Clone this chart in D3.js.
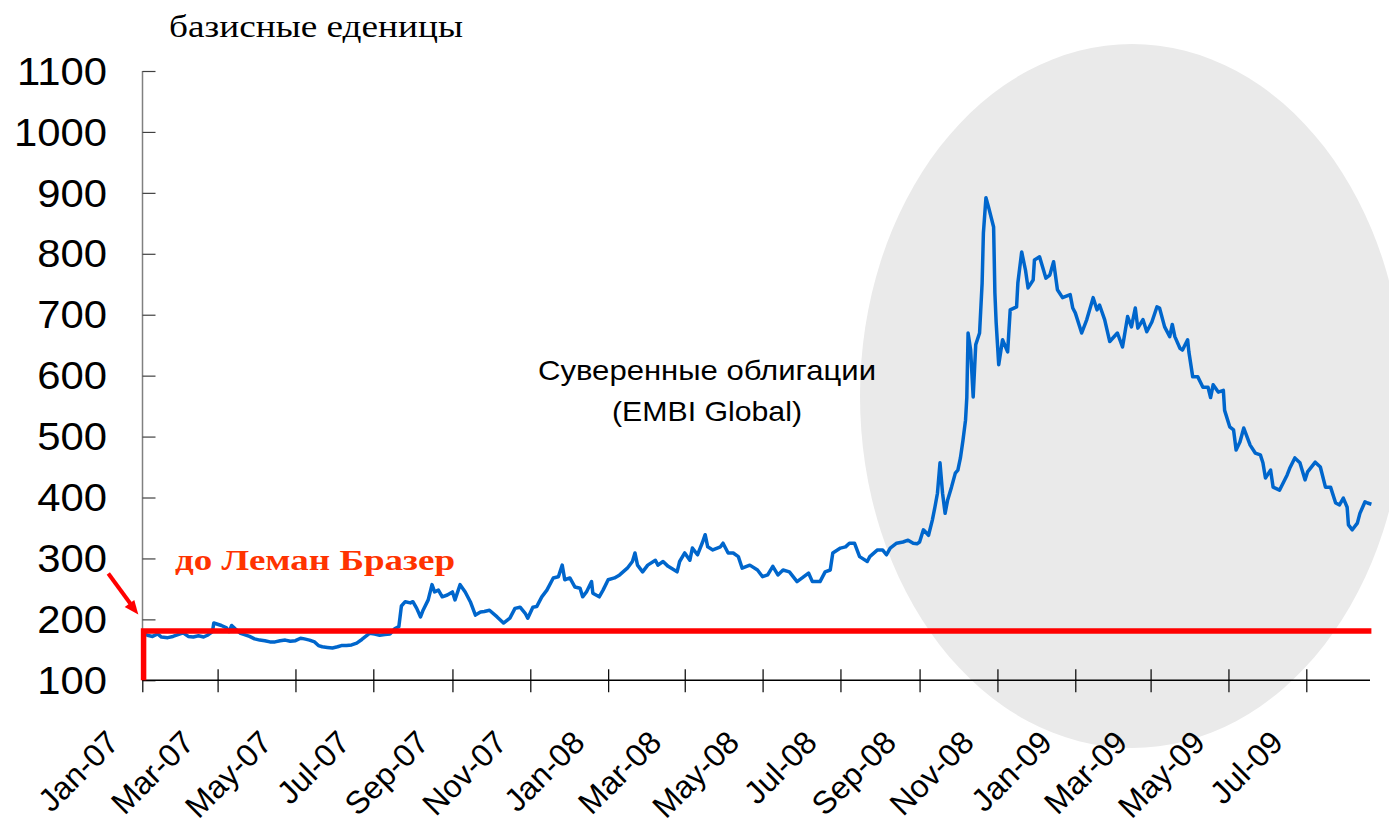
<!DOCTYPE html>
<html>
<head>
<meta charset="utf-8">
<script src="https://cdn.jsdelivr.net/npm/d3@7"></script>
<style>
  body { margin: 0; background: #fff; }
  svg { display: block; }
</style>
</head>
<body>
<svg width="1389" height="824"></svg>
<script>
// days since 1 Jan 2007 and EMBI Global spread (bp)
var spreadDays = [
  1, 4, 8, 12, 15, 20, 24, 28, 32, 36, 40, 44, 48, 51, 55, 56, 59, 62, 66, 68,
  70, 73, 77, 80, 84, 88, 92, 96, 100, 104, 108, 112, 116, 120, 124, 127, 131, 135, 138, 141,
  145, 149, 153, 156, 160, 164, 168, 172, 175, 178, 182, 186, 190, 194, 198, 201, 203, 206, 210, 212,
  215, 218, 220, 224, 227, 229, 232, 235, 239, 243, 245, 249, 253, 257, 261, 265, 268, 272, 278, 283,
  288, 292, 296, 300, 302, 306, 309, 313, 317, 322, 326, 329, 331, 335, 339, 343, 345, 348, 352, 353,
  358, 361, 365, 370, 374, 380, 384, 386, 388, 392, 396, 402, 404, 408, 412, 419, 421, 425, 429, 431,
  435, 439, 441, 443, 447, 453, 455, 459, 463, 467, 470, 476, 482, 486, 490, 494, 498, 502, 507, 513,
  517, 522, 525, 531, 535, 539, 541, 547, 551, 554, 558, 562, 568, 570, 576, 580, 583, 586, 591, 596,
  600, 604, 607, 609, 612, 616, 619, 621, 623, 625, 627, 629, 631, 634, 637, 639, 641, 643, 645, 646,
  647, 649, 651, 653, 656, 658, 659, 661, 663, 667, 668, 669, 671, 674, 678, 680, 685, 686, 689, 692,
  694, 698, 699, 703, 708, 711, 714, 717, 721, 727, 729, 731, 736, 740, 745, 748, 750, 754, 758, 764,
  768, 772, 775, 778, 780, 784, 787, 791, 795, 797, 801, 805, 807, 809, 813, 815, 819, 820, 823, 827,
  831, 835, 837, 839, 843, 847, 848, 852, 855, 857, 860, 863, 868, 872, 876, 878, 880, 884, 886, 891,
  897, 899, 903, 907, 911, 913, 919, 923, 927, 931, 935, 938, 941, 944, 945, 948, 952, 954, 958, 960,
  963
];
var spreadValues = [
  177, 174, 172, 176, 171, 170, 172, 175, 178, 172, 171, 173, 171, 174, 180, 194, 192, 190, 186, 180,
  190, 184, 177, 175, 172, 168, 166, 165, 163, 163, 165, 166, 164, 165, 169, 168, 166, 163, 157, 155,
  154, 153, 155, 157, 157, 158, 161, 167, 172, 177, 176, 174, 175, 176, 185, 188, 222, 229, 227, 229,
  218, 204, 215, 232, 257, 245, 248, 237, 240, 245, 232, 257, 245, 229, 207, 212, 213, 215, 204, 194,
  202, 218, 220, 210, 202, 220, 221, 237, 248, 268, 270, 289, 265, 268, 253, 251, 237, 245, 262, 243,
  237, 248, 265, 268, 273, 284, 295, 309, 289, 278, 289, 297, 289, 295, 287, 278, 295, 309, 297, 317,
  306, 327, 339, 319, 314, 319, 325, 309, 309, 303, 284, 289, 281, 270, 273, 287, 273, 281, 278, 262,
  268, 276, 262, 262, 278, 281, 309, 317, 319, 325, 325, 303, 295, 303, 314, 314, 306, 317, 325, 327,
  330, 325, 324, 327, 347, 338, 363, 384, 407, 457, 407, 374, 396, 417, 440, 445, 465, 494, 527, 564,
  670, 642, 565, 651, 670, 752, 834, 892, 877, 844, 736, 687, 618, 659, 639, 708, 713, 752, 803, 773,
  744, 757, 790, 795, 760, 765, 787, 741, 728, 733, 711, 703, 670, 692, 728, 708, 716, 692, 656, 670,
  647, 697, 680, 711, 678, 692, 672, 688, 713, 711, 680, 664, 684, 664, 645, 642, 659, 639, 598, 598,
  581, 581, 564, 585, 573, 576, 543, 516, 511, 478, 491, 514, 486, 473, 470, 457, 432, 445, 417, 412,
  437, 448, 465, 457, 429, 442, 458, 450, 417, 417, 391, 388, 399, 384, 355, 347, 358, 374, 393, 391,
  389
];
// pre-Lehman level
var lehmanDays = [1, 1, 963];
var lehmanValues = [100, 181, 181];

var yTicks = [100, 200, 300, 400, 500, 600, 700, 800, 900, 1000, 1100];
var startDate = new Date(2007, 0, 1);
var lastDay = 963;

var svg = d3.select("svg");
var toDate = function (d) { return d3.timeDay.offset(startDate, d); };

var xScale = d3.scaleTime()
  .domain([startDate, toDate(lastDay)])
  .range([142.3, 1371.4]);
var yScale = d3.scaleLinear().domain([100, 1100]).range([680.3, 71]);

// grey highlight ellipse (crisis period)
svg.append("ellipse")
  .attr("cx", 1132)
  .attr("cy", 396)
  .attr("rx", 272)
  .attr("ry", 352)
  .style("fill", "#eaeaea");

// y axis
var yAxis = svg.append("g")
  .attr("transform", "translate(142.5,0)")
  .call(d3.axisRight(yScale).tickValues(yTicks).tickSize(13).tickFormat(""));
yAxis.select(".domain").attr("d", "M0," + yScale(1100) + "V" + yScale(100)).style("stroke", "#808080").style("stroke-width", 1.5);
yAxis.selectAll(".tick line").style("stroke", "#404040").style("stroke-width", 1.2);

// labels are a little wider than the font, as in the source
svg.append("g")
  .selectAll("text")
  .data(yTicks)
  .enter()
  .append("text")
  .attr("transform", function (d) { return "translate(107," + yScale(d) + ") scale(1.1,1)"; })
  .attr("dy", "0.36em")
  .attr("text-anchor", "end")
  .style("font-family", "Liberation Sans, Arial, sans-serif")
  .style("font-size", "38px")
  .text(function (d) { return d; });

// x axis
var xAxis = svg.append("g")
  .attr("transform", "translate(0," + yScale(100) + ")")
  .call(d3.axisBottom(xScale)
    .ticks(d3.timeMonth.every(2))
    .tickSize(12)
    .tickFormat(d3.timeFormat("%b-%y")));
xAxis.select(".domain").attr("d", "M142.3,0H1370").style("stroke", "#000").style("stroke-width", 1.5);
xAxis.selectAll(".tick line").attr("y1", -11).style("stroke", "#000").style("stroke-width", 1.2);
xAxis.selectAll(".tick text")
  .attr("y", 0)
  .attr("dy", 0)
  .attr("transform", "translate(-22,64) rotate(-45)")
  .attr("text-anchor", "end")
  .style("font-family", "Liberation Sans, Arial, sans-serif")
  .style("font-size", "32px")
  .style("fill", "#000");

// spread line
var spread = spreadDays.map(function (d, i) { return [toDate(d), spreadValues[i]]; });
var lehman = lehmanDays.map(function (d, i) { return [toDate(d), lehmanValues[i]]; });
var line = d3.line()
  .x(function (d) { return xScale(d[0]); })
  .y(function (d) { return yScale(d[1]); });

svg.append("path")
  .datum(spread)
  .attr("d", line)
  .style("fill", "none")
  .style("stroke", "#0066cc")
  .style("stroke-width", 3.5)
  .style("stroke-linejoin", "round");

svg.append("path")
  .datum(lehman)
  .attr("d", line)
  .style("fill", "none")
  .style("stroke", "#ff0000")
  .style("stroke-width", 5.5);

// titles and notes
svg.append("text")
  .attr("x", 169)
  .attr("y", 37)
  .attr("textLength", 294)
  .attr("lengthAdjust", "spacingAndGlyphs")
  .style("font-family", "Liberation Serif, Times New Roman, serif")
  .style("font-size", "31px")
  .text("базисные еденицы");

svg.append("text")
  .attr("x", 175)
  .attr("y", 570)
  .attr("textLength", 280)
  .attr("lengthAdjust", "spacingAndGlyphs")
  .style("font-family", "Liberation Serif, Times New Roman, serif")
  .style("font-weight", "bold")
  .style("font-size", "29px")
  .style("fill", "#ff3300")
  .text("до Леман Бразер");

svg.append("text")
  .attr("x", 538)
  .attr("y", 380)
  .attr("textLength", 338)
  .attr("lengthAdjust", "spacingAndGlyphs")
  .style("font-family", "Liberation Sans, Arial, sans-serif")
  .style("font-size", "28px")
  .text("Суверенные облигации");
svg.append("text")
  .attr("x", 612)
  .attr("y", 421)
  .attr("textLength", 190)
  .attr("lengthAdjust", "spacingAndGlyphs")
  .style("font-family", "Liberation Sans, Arial, sans-serif")
  .style("font-size", "28px")
  .text("(EMBI Global)");

// arrow to the start of the red line
var tip = [xScale(startDate) - 4, yScale(208)];
var tail = [tip[0] - 30, tip[1] - 41];
svg.append("line")
  .attr("x1", tail[0]).attr("y1", tail[1])
  .attr("x2", tip[0] - 8).attr("y2", tip[1] - 11)
  .style("stroke", "#ff0000")
  .style("stroke-width", 4);
svg.append("path")
  .attr("d", "M" + tip[0] + "," + tip[1] +
    "L" + (tip[0] - 13.6) + "," + (tip[1] - 7.5) +
    "L" + (tip[0] - 4) + "," + (tip[1] - 14.5) + "Z")
  .style("fill", "#ff0000");
</script>
</body>
</html>
